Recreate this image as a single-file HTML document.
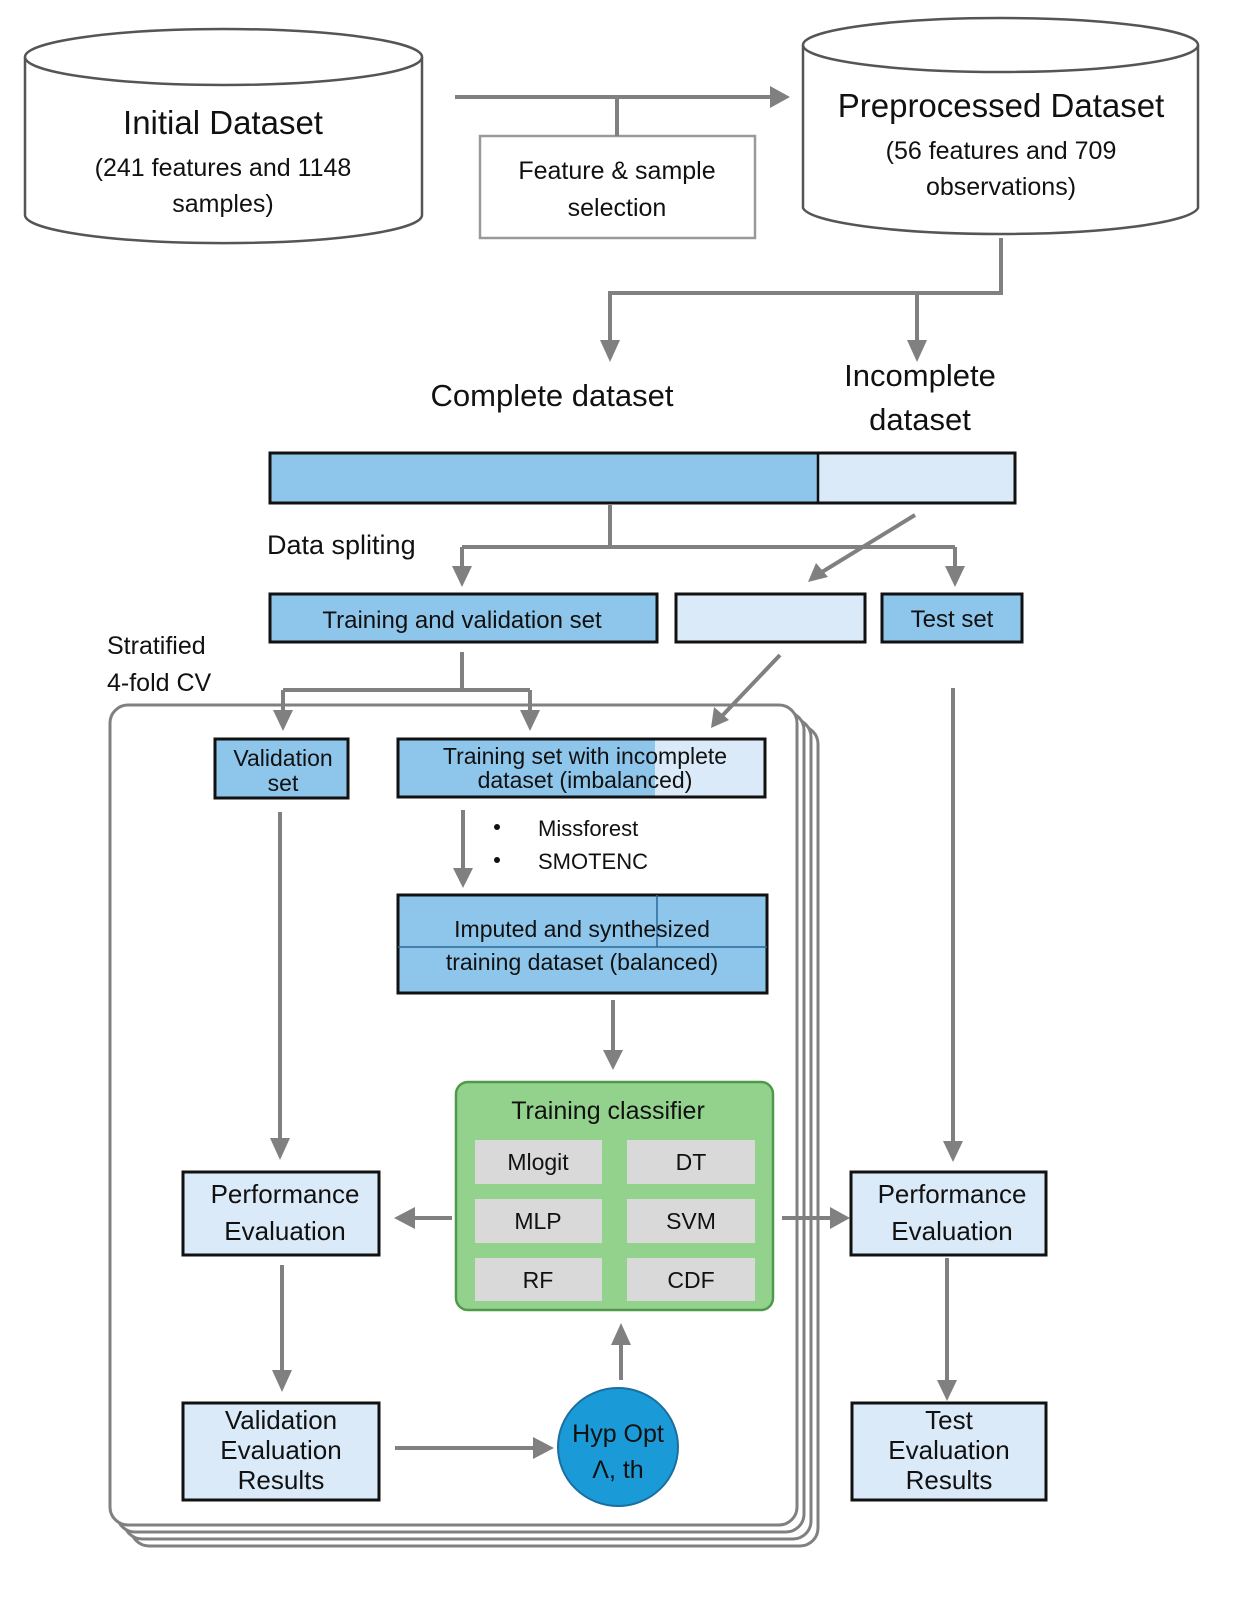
<!DOCTYPE html>
<html><head><meta charset="utf-8"><style>html,body{margin:0;padding:0;background:#fff}svg{display:block}text{font-family:"Liberation Sans",sans-serif;fill:#111}</style></head>
<body>
<svg width="1247" height="1600" viewBox="0 0 1247 1600" xmlns="http://www.w3.org/2000/svg">
<defs>
<marker id="ah" markerWidth="10" markerHeight="10" refX="7" refY="5" orient="auto" markerUnits="userSpaceOnUse"><path d="M0,0 L0,0" /></marker>
</defs>
<g fill="none" stroke="#808080" stroke-width="3">
<!-- stacked panel -->
<rect x="131" y="726" width="687" height="820" rx="18" fill="#fff"/>
<rect x="124" y="719" width="687" height="820" rx="18" fill="#fff"/>
<rect x="117" y="712" width="687" height="820" rx="18" fill="#fff"/>
<rect x="110" y="705" width="687" height="820" rx="18" fill="#fff"/>
</g>
<!-- cylinders -->
<g stroke="#555" stroke-width="2.5" fill="#fff">
<path d="M25,57 L25,215 A198,28 0 0 0 422,215 L422,57"/>
<ellipse cx="223.5" cy="57" rx="198.5" ry="28"/>
<path d="M803,45 L803,208 A198,28 0 0 0 1198,208 L1198,45"/>
<ellipse cx="1000.5" cy="45" rx="197.5" ry="27"/>
</g>
<text x="223" y="134" font-size="33" text-anchor="middle">Initial Dataset</text>
<text x="223" y="176" font-size="25" text-anchor="middle">(241 features and 1148</text>
<text x="223" y="212" font-size="25" text-anchor="middle">samples)</text>
<text x="1001" y="117" font-size="33" text-anchor="middle">Preprocessed Dataset</text>
<text x="1001" y="159" font-size="25" text-anchor="middle">(56 features and 709</text>
<text x="1001" y="195" font-size="25" text-anchor="middle">observations)</text>
<rect x="480" y="136" width="275" height="102" fill="#fff" stroke="#999" stroke-width="2.5"/>
<text x="617" y="179" font-size="25" text-anchor="middle">Feature &amp; sample</text>
<text x="617" y="216" font-size="25" text-anchor="middle">selection</text>
<!-- connectors -->
<g stroke="#808080" stroke-width="4" fill="none">
<path d="M455,97 H775 M617,97 V136"/>
<path d="M1001,238 V293 H610 V345 M917,293 V345"/>
<path d="M610,505 V547 M462,547 H955 M462,547 V572 M955,547 V572 M915,515 L822,572"/>
<path d="M462,652 V690 M283,690 H530 M283,690 V716 M530,690 V716 M780,655 L722,716"/>
<path d="M280,812 V1143 M463,810 V872 M613,1000 V1054 M452,1218 H412 M282,1265 V1375 M395,1448 H538 M621,1380 V1340 M782,1218 H833 M953,688 V1146 M947,1258 V1385"/>
</g>
<g fill="#808080">
<polygon points="770,86 790,97 770,108"/>
<polygon points="600,340 620,340 610,362"/><polygon points="907,340 927,340 917,362"/>
<polygon points="452,566 472,566 462,587"/><polygon points="945,566 965,566 955,587"/>
<polygon points="808,582 816,563 828,577"/>
<polygon points="273,710 293,710 283,731"/><polygon points="520,710 540,710 530,731"/>
<polygon points="711,728 714,707 729,720"/>
<polygon points="270,1138 290,1138 280,1160"/>
<polygon points="453,868 473,868 463,888"/>
<polygon points="603,1050 623,1050 613,1070"/>
<polygon points="415,1207 415,1229 394,1218"/>
<polygon points="272,1370 292,1370 282,1392"/>
<polygon points="533,1437 533,1459 554,1448"/>
<polygon points="611,1345 631,1345 621,1323"/>
<polygon points="830,1207 830,1229 850,1218"/>
<polygon points="943,1141 963,1141 953,1162"/>
<polygon points="937,1380 957,1380 947,1401"/>
</g>
<text x="552" y="406" font-size="31" text-anchor="middle">Complete dataset</text>
<text x="920" y="386" font-size="31" text-anchor="middle">Incomplete</text>
<text x="920" y="430" font-size="31" text-anchor="middle">dataset</text>
<!-- bar -->
<rect x="270" y="453" width="548" height="50" fill="#8ec5ea"/>
<rect x="818" y="453" width="197" height="50" fill="#dbeaf8"/>
<rect x="270" y="453" width="745" height="50" fill="none" stroke="#111" stroke-width="3"/>
<line x1="818" y1="453" x2="818" y2="503" stroke="#111" stroke-width="2.5"/>
<text x="267" y="554" font-size="27">Data spliting</text>
<rect x="270" y="594" width="387" height="48" fill="#8ec5ea" stroke="#111" stroke-width="3"/>
<text x="462" y="628" font-size="24" text-anchor="middle">Training and validation set</text>
<rect x="676" y="594" width="189" height="48" fill="#dbeaf8" stroke="#111" stroke-width="3"/>
<rect x="882" y="594" width="140" height="48" fill="#8ec5ea" stroke="#111" stroke-width="3"/>
<text x="952" y="627" font-size="24" text-anchor="middle">Test set</text>
<text x="107" y="654" font-size="25">Stratified</text>
<text x="107" y="691" font-size="25">4-fold CV</text>
<!-- inner -->
<rect x="215" y="739" width="133" height="59" fill="#8ec5ea" stroke="#111" stroke-width="3"/>
<text x="283" y="766" font-size="23" text-anchor="middle">Validation</text>
<text x="283" y="791" font-size="23" text-anchor="middle">set</text>
<rect x="398" y="739" width="257" height="58" fill="#8ec5ea"/>
<rect x="655" y="739" width="110" height="58" fill="#dbeaf8"/>
<rect x="398" y="739" width="367" height="58" fill="none" stroke="#111" stroke-width="3"/>
<text x="585" y="764" font-size="23" text-anchor="middle">Training set with incomplete</text>
<text x="585" y="788" font-size="23" text-anchor="middle">dataset (imbalanced)</text>
<circle cx="497" cy="827" r="3" fill="#111"/><circle cx="497" cy="860" r="3" fill="#111"/>
<text x="538" y="836" font-size="22">Missforest</text>
<text x="538" y="869" font-size="22">SMOTENC</text>
<rect x="398" y="895" width="369" height="98" fill="#8ec5ea" stroke="#111" stroke-width="3"/>
<path d="M398,947 H767 M657,895 V947" stroke="#2a6a9a" stroke-width="1.5"/>
<text x="582" y="937" font-size="23" text-anchor="middle">Imputed  and synthesized</text>
<text x="582" y="970" font-size="23" text-anchor="middle">training dataset (balanced)</text>
<!-- green -->
<rect x="456" y="1082" width="317" height="228" rx="12" fill="#93d28c" stroke="#4f9a4a" stroke-width="2.5"/>
<text x="608" y="1119" font-size="25" text-anchor="middle">Training classifier</text>
<g fill="#d9d9d9">
<rect x="475" y="1140" width="127" height="44"/><rect x="627" y="1140" width="128" height="44"/>
<rect x="475" y="1199" width="127" height="44"/><rect x="627" y="1199" width="128" height="44"/>
<rect x="475" y="1258" width="127" height="43"/><rect x="627" y="1258" width="128" height="43"/>
</g>
<g font-size="23" text-anchor="middle">
<text x="538" y="1170">Mlogit</text><text x="691" y="1170">DT</text>
<text x="538" y="1229">MLP</text><text x="691" y="1229">SVM</text>
<text x="538" y="1288">RF</text><text x="691" y="1288">CDF</text>
</g>
<!-- eval boxes -->
<g fill="#dbeaf8" stroke="#111" stroke-width="3">
<rect x="183" y="1172" width="196" height="83"/>
<rect x="183" y="1403" width="196" height="97"/>
<rect x="851" y="1172" width="195" height="83"/>
<rect x="852" y="1403" width="194" height="97"/>
</g>
<g font-size="26" text-anchor="middle">
<text x="285" y="1203">Performance</text><text x="285" y="1240">Evaluation</text>
<text x="281" y="1429">Validation</text><text x="281" y="1459">Evaluation</text><text x="281" y="1489">Results</text>
<text x="952" y="1203">Performance</text><text x="952" y="1240">Evaluation</text>
<text x="949" y="1429">Test</text><text x="949" y="1459">Evaluation</text><text x="949" y="1489">Results</text>
</g>
<ellipse cx="618" cy="1447" rx="60" ry="59" fill="#1b9ad8" stroke="#1a6fa0" stroke-width="2"/>
<text x="618" y="1442" font-size="25" text-anchor="middle">Hyp Opt</text>
<text x="618" y="1478" font-size="25" text-anchor="middle">Λ, th</text>
</svg>
</body></html>
